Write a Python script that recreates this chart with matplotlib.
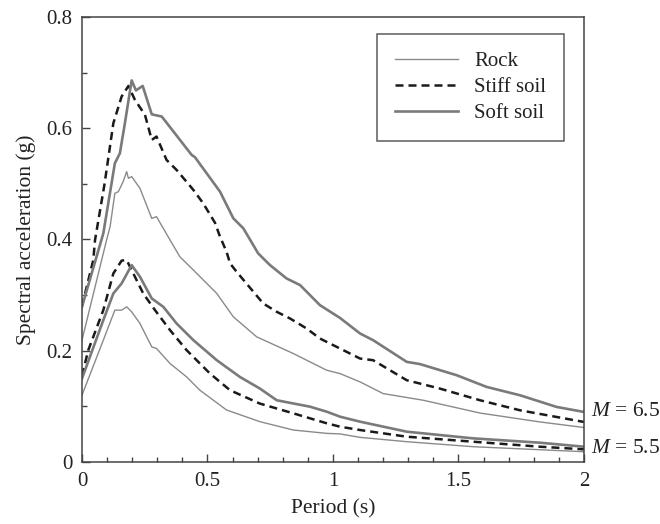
import matplotlib
matplotlib.use("Agg")
import matplotlib.pyplot as plt
from matplotlib.ticker import MultipleLocator

plt.rcParams["font.family"] = ["Liberation Serif", "DejaVu Serif"]
plt.rcParams["mathtext.fontset"] = "custom"
plt.rcParams["mathtext.it"] = "Liberation Serif:italic"
plt.rcParams["mathtext.rm"] = "Liberation Serif"

# Spectral acceleration (g) versus period (s)
# M = 6.5
rock65_t = [0, 0.098, 0.112, 0.131, 0.145, 0.165, 0.178, 0.185, 0.198, 0.231, 0.278, 0.297,
            0.351, 0.39, 0.444, 0.537, 0.603, 0.696, 0.842, 0.975, 1.028, 1.108, 1.2, 1.36,
            1.586, 1.825, 2.0]
rock65_v = [0.219, 0.399, 0.423, 0.483, 0.486, 0.505, 0.522, 0.51, 0.513, 0.492, 0.438, 0.441,
            0.399, 0.369, 0.345, 0.303, 0.261, 0.225, 0.195, 0.165, 0.159, 0.144, 0.123, 0.111,
            0.088, 0.072, 0.062]

stiff65_t = [0, 0.045, 0.052, 0.09, 0.125, 0.158, 0.185, 0.211, 0.251, 0.278, 0.297, 0.337,
             0.377, 0.444, 0.483, 0.53, 0.55, 0.576, 0.59, 0.616, 0.683, 0.722, 0.776, 0.829,
             0.895, 0.948, 1.028, 1.108, 1.16, 1.294, 1.426, 1.586, 1.745, 2.0]
stiff65_v = [0.28, 0.363, 0.399, 0.5, 0.609, 0.657, 0.676, 0.651, 0.624, 0.579, 0.585, 0.543,
             0.525, 0.489, 0.465, 0.43, 0.405, 0.378, 0.357, 0.342, 0.306, 0.285, 0.270, 0.258,
             0.240, 0.222, 0.204, 0.186, 0.183, 0.147, 0.132, 0.111, 0.093, 0.072]

soft65_t = [0, 0.085, 0.131, 0.151, 0.171, 0.198, 0.215, 0.242, 0.278, 0.318, 0.437, 0.45,
            0.55, 0.603, 0.643, 0.702, 0.749, 0.815, 0.869, 0.948, 1.028, 1.108, 1.16, 1.294,
            1.347, 1.493, 1.612, 1.745, 1.891, 2.0]
soft65_v = [0.279, 0.411, 0.537, 0.555, 0.609, 0.686, 0.668, 0.676, 0.625, 0.621, 0.552, 0.548,
            0.486, 0.438, 0.420, 0.375, 0.354, 0.330, 0.318, 0.282, 0.259, 0.231, 0.219, 0.180,
            0.176, 0.156, 0.135, 0.120, 0.099, 0.090]

# M = 5.5
rock55_t = [0, 0.085, 0.131, 0.158, 0.178, 0.198, 0.231, 0.278, 0.297, 0.351, 0.417, 0.47,
            0.576, 0.709, 0.842, 0.975, 1.028, 1.108, 1.294, 1.559, 2.0]
rock55_v = [0.12, 0.219, 0.273, 0.273, 0.279, 0.270, 0.249, 0.207, 0.204, 0.177, 0.153, 0.129,
            0.0935, 0.0725, 0.0575, 0.0515, 0.0505, 0.0443, 0.0365, 0.0275, 0.0185]

stiff55_t = [0, 0.025, 0.085, 0.125, 0.158, 0.178, 0.211, 0.244, 0.291, 0.351, 0.417, 0.51,
             0.59, 0.709, 0.842, 0.975, 1.028, 1.108, 1.294, 1.559, 1.825, 2.0]
stiff55_v = [0.155, 0.201, 0.273, 0.339, 0.362, 0.363, 0.333, 0.303, 0.273, 0.237, 0.201, 0.159,
             0.129, 0.105, 0.0875, 0.0696, 0.0635, 0.0575, 0.0455, 0.0365, 0.0275, 0.0228]

soft55_t = [0, 0.085, 0.125, 0.158, 0.198, 0.231, 0.278, 0.324, 0.377, 0.444, 0.537, 0.629,
            0.709, 0.776, 0.908, 0.975, 1.028, 1.108, 1.294, 1.559, 1.825, 2.0]
soft55_v = [0.15, 0.255, 0.303, 0.321, 0.354, 0.333, 0.294, 0.279, 0.249, 0.219, 0.183, 0.153,
            0.132, 0.111, 0.0995, 0.0905, 0.0815, 0.0725, 0.0545, 0.0425, 0.0347, 0.0275]

x_ticks = [0, 0.5, 1, 1.5, 2]
x_ticklabels = ["0", "0.5", "1", "1.5", "2"]
y_ticks = [0, 0.2, 0.4, 0.6, 0.8]
y_ticklabels = ["0", "0.2", "0.4", "0.6", "0.8"]

magnitude_labels = ["$M$ = 6.5", "$M$ = 5.5"]
magnitude_y = [0.09, 0.025]

rock_style = dict(color="#8a8a8a", lw=1.0)
stiff_style = dict(color="#1a1a1a", lw=1.8, ls=(0, (3.2, 2.0)))
soft_style = dict(color="#7a7a7a", lw=1.9)

fig = plt.figure(figsize=(6.6, 5.24), dpi=100)
ax = fig.add_axes([0.1242, 0.1183, 0.7606, 0.8493])

ax.plot(rock65_t, rock65_v, **rock_style, label="Rock")
ax.plot(stiff65_t, stiff65_v, **stiff_style, label="Stiff soil")
ax.plot(soft65_t, soft65_v, **soft_style, label="Soft soil")
ax.plot(rock55_t, rock55_v, **rock_style)
ax.plot(stiff55_t, stiff55_v, **stiff_style)
ax.plot(soft55_t, soft55_v, **soft_style)

ax.set_xlim(0, 2)
ax.set_ylim(0, 0.8)
ax.set_xticks(x_ticks, labels=x_ticklabels)
ax.set_yticks(y_ticks, labels=y_ticklabels)
ax.xaxis.set_minor_locator(MultipleLocator(0.1))
ax.yaxis.set_minor_locator(MultipleLocator(0.1))
ax.tick_params(which="major", direction="in", length=6, width=1.0, color="#444444",
               labelsize=15, labelcolor="#222222", pad=7)
ax.tick_params(which="minor", direction="in", length=3.5, width=1.0, color="#444444")
for s in ax.spines.values():
    s.set_color("#444444")
    s.set_linewidth(1.1)

ax.set_xlabel("Period (s)", fontsize=15.5, color="#222222", labelpad=6)
ax.set_ylabel("Spectral acceleration (g)", fontsize=15.5, color="#222222", labelpad=7)

for lab, yv in zip(magnitude_labels, magnitude_y):
    ax.annotate(lab, xy=(2, yv), xycoords="data", xytext=(5, 0), textcoords="offset points",
                ha="left", va="center", fontsize=15.5, color="#222222", annotation_clip=False)

leg = ax.legend(loc="upper right", bbox_to_anchor=(0.960, 0.962), fontsize=15,
                frameon=True, fancybox=False, edgecolor="#333333", handlelength=3.0,
                handletextpad=0.8, borderpad=0.85, labelspacing=0.3, borderaxespad=0)
leg.get_frame().set_linewidth(1.1)
for t in leg.get_texts():
    t.set_color("#222222")

fig.savefig("out.png", dpi=100)
